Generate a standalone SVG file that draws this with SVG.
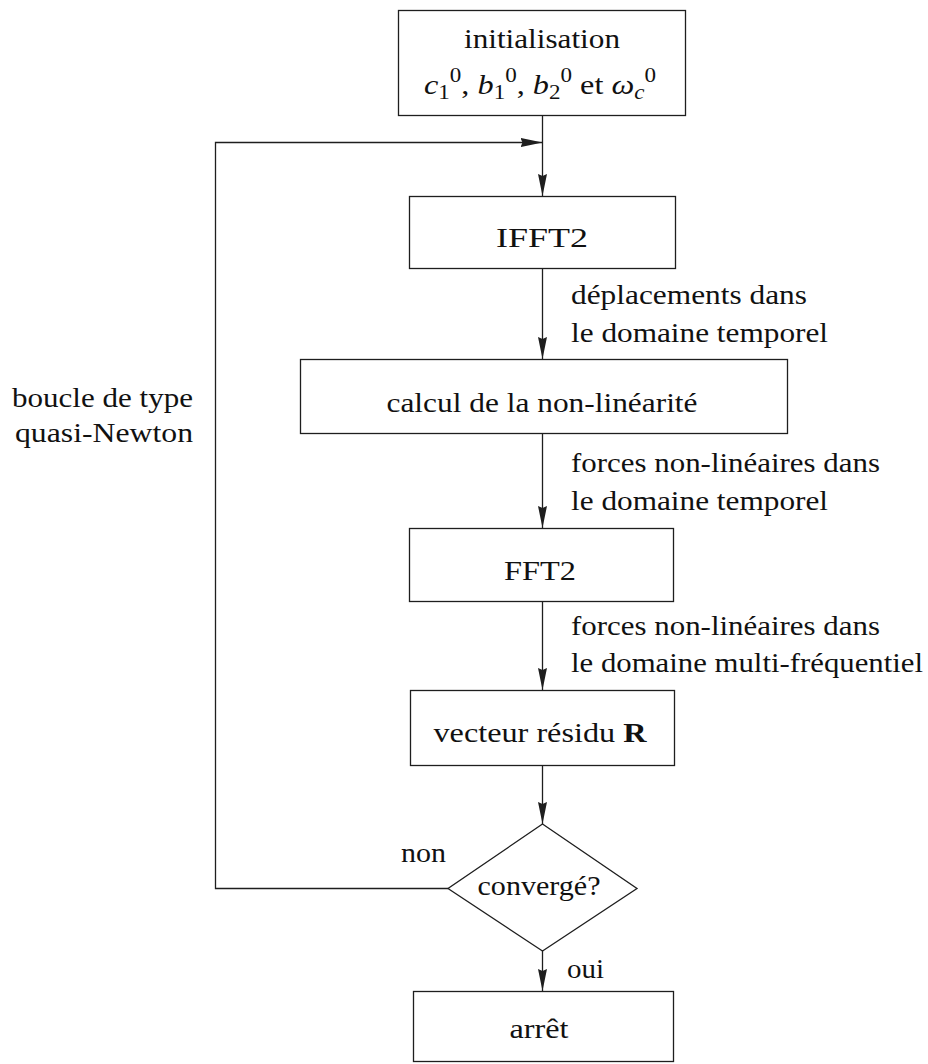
<svg xmlns="http://www.w3.org/2000/svg" width="928" height="1064" viewBox="0 0 928 1064">
<style>
  .box { fill: #ffffff; stroke: #1e1e1e; stroke-width: 1.3; }
  .edge { fill: none; stroke: #1e1e1e; stroke-width: 1.3; }
  text { font-family: "Liberation Serif", "DejaVu Serif", "Times New Roman", serif; font-size: 28px; fill: #111111; }
  .c { text-anchor: middle; }
</style>
<defs>
  <marker id="arr" viewBox="0 0 22 9" refX="22" refY="4.5" markerWidth="22" markerHeight="9" markerUnits="userSpaceOnUse" orient="auto">
    <path d="M0,0 L22,4.5 L0,9 L2,4.5 Z" fill="#1e1e1e"/>
  </marker>
</defs>
<rect width="928" height="1064" fill="#ffffff"/>

<g id="connectors">
  <line class="edge" x1="542.5" y1="116" x2="542.5" y2="196" marker-end="url(#arr)"/>
  <line class="edge" x1="542.5" y1="269" x2="542.5" y2="359" marker-end="url(#arr)"/>
  <line class="edge" x1="542.5" y1="434" x2="542.5" y2="528" marker-end="url(#arr)"/>
  <line class="edge" x1="542.5" y1="602" x2="542.5" y2="690" marker-end="url(#arr)"/>
  <line class="edge" x1="542.5" y1="765" x2="542.5" y2="824" marker-end="url(#arr)"/>
  <line class="edge" x1="542.5" y1="951" x2="542.5" y2="991" marker-end="url(#arr)"/>
  <polyline class="edge" points="448,888.5 215.5,888.5 215.5,142.5 542.5,142.5" marker-end="url(#arr)"/>
  <text x="571" y="304" textLength="236" lengthAdjust="spacingAndGlyphs">déplacements dans</text>
  <text x="571" y="342" textLength="257" lengthAdjust="spacingAndGlyphs">le domaine temporel</text>
  <text x="571" y="472" textLength="309" lengthAdjust="spacingAndGlyphs">forces non-linéaires dans</text>
  <text x="571" y="510" textLength="257" lengthAdjust="spacingAndGlyphs">le domaine temporel</text>
  <text x="571" y="635" textLength="309" lengthAdjust="spacingAndGlyphs">forces non-linéaires dans</text>
  <text x="571" y="672" textLength="352" lengthAdjust="spacingAndGlyphs">le domaine multi-fréquentiel</text>
  <text x="12" y="407" textLength="181" lengthAdjust="spacingAndGlyphs">boucle de type</text>
  <text x="15" y="442" textLength="178" lengthAdjust="spacingAndGlyphs">quasi-Newton</text>
  <text x="401" y="862" textLength="45" lengthAdjust="spacingAndGlyphs">non</text>
  <text x="567" y="978" textLength="37" lengthAdjust="spacingAndGlyphs">oui</text>
</g>

<g id="node-init">
  <rect class="box" x="398.5" y="10.5" width="287" height="105"/>
  <text class="c" x="542" y="48" textLength="156" lengthAdjust="spacingAndGlyphs">initialisation</text>
  <text class="c" x="540" y="94" textLength="232" lengthAdjust="spacingAndGlyphs"><tspan font-style="italic">c</tspan><tspan font-size="20" dy="5">1</tspan><tspan font-size="20" dy="-17">0</tspan><tspan dy="12">, </tspan><tspan font-style="italic">b</tspan><tspan font-size="20" dy="5">1</tspan><tspan font-size="20" dy="-17">0</tspan><tspan dy="12">, </tspan><tspan font-style="italic">b</tspan><tspan font-size="20" dy="5">2</tspan><tspan font-size="20" dy="-17">0</tspan><tspan dy="12"> et </tspan><tspan font-style="italic">ω</tspan><tspan font-size="20" font-style="italic" dy="5">c</tspan><tspan font-size="20" dy="-17">0</tspan></text>
</g>

<g id="node-ifft2">
  <rect class="box" x="409.5" y="196.5" width="266" height="72"/>
  <text class="c" x="542" y="247" textLength="92" lengthAdjust="spacingAndGlyphs">IFFT2</text>
</g>

<g id="node-calcul">
  <rect class="box" x="300.5" y="359.5" width="487" height="74"/>
  <text class="c" x="542" y="412" textLength="311" lengthAdjust="spacingAndGlyphs">calcul de la non-linéarité</text>
</g>

<g id="node-fft2">
  <rect class="box" x="409.5" y="528.5" width="264" height="73"/>
  <text class="c" x="540" y="580" textLength="72" lengthAdjust="spacingAndGlyphs">FFT2</text>
</g>

<g id="node-residu">
  <rect class="box" x="410.5" y="690.5" width="264" height="75"/>
  <text class="c" x="540" y="742" textLength="213" lengthAdjust="spacingAndGlyphs">vecteur résidu <tspan font-weight="bold">R</tspan></text>
</g>

<g id="node-converge">
  <polygon class="box" points="542.5,824 637,888.5 542.5,951 448,888.5"/>
  <text class="c" x="539" y="895" textLength="123" lengthAdjust="spacingAndGlyphs">convergé?</text>
</g>

<g id="node-arret">
  <rect class="box" x="413.5" y="991.5" width="260" height="70"/>
  <text class="c" x="539" y="1038" textLength="59" lengthAdjust="spacingAndGlyphs">arrêt</text>
</g>
</svg>
